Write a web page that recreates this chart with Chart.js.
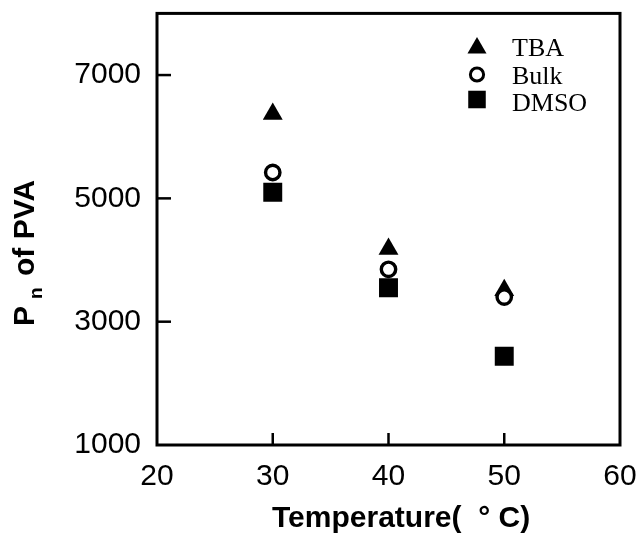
<!DOCTYPE html>
<html><head><meta charset="utf-8">
<script src="https://cdn.jsdelivr.net/npm/chart.js@4/dist/chart.umd.min.js"></script>
<style>html,body{margin:0;padding:0;background:#fff;}#wrap{width:639px;height:543px;position:relative;}</style>
</head><body><div id="wrap"><canvas id="c" width="639" height="543"></canvas></div>
<script>
// ---- data ----
const temperatures = [30, 40, 50];
const tbaValues  = [6370, 4180, 3510];
const bulkValues = [5420, 3850, 3400];
const dmsoValues = [5100, 3550, 2440];
const seriesNames = ['TBA', 'Bulk', 'DMSO'];
const xTickValues = [20, 30, 40, 50, 60];
const yTickValues = [1000, 3000, 5000, 7000];
const xTitle = 'Temperature(  ° C)';
const yTitleMain = 'P', yTitleSub = 'n', yTitleRest = 'of PVA';

const pts = (vals) => temperatures.map((t, i) => ({x: t, y: vals[i]}));

const styles = [
  {pointStyle: 'triangle', pointRadius: 11.5, backgroundColor: '#000', borderColor: '#000', borderWidth: 0, order: 1},
  {pointStyle: 'circle', pointRadius: 7.2, backgroundColor: '#fff', borderColor: '#000', borderWidth: 3.4, order: 0},
  {pointStyle: 'rect', pointRadius: 13.4, backgroundColor: '#000', borderColor: '#000', borderWidth: 0, order: 2}
];
const seriesValues = [tbaValues, bulkValues, dmsoValues];

const datasets = seriesNames.map((name, i) => ({
  label: name,
  data: pts(seriesValues[i]),
  showLine: false,
  pointStyle: styles[i].pointStyle,
  pointRadius: styles[i].pointRadius,
  pointHoverRadius: styles[i].pointRadius,
  pointBackgroundColor: styles[i].backgroundColor,
  pointBorderColor: styles[i].borderColor,
  pointBorderWidth: styles[i].borderWidth,
  order: styles[i].order
}));

function drawMarker(ctx, style, radius, bw, x, y, fill) {
  ctx.save();
  ctx.fillStyle = fill; ctx.strokeStyle = '#000'; ctx.lineWidth = bw;
  if (Chart.helpers && Chart.helpers.drawPoint) {
    Chart.helpers.drawPoint(ctx, {pointStyle: style, radius: radius, rotation: 0, borderWidth: bw}, x, y);
  } else {
    ctx.beginPath();
    if (style === 'circle') ctx.arc(x, y, radius, 0, Math.PI * 2);
    else if (style === 'rect') { const s = radius * Math.SQRT1_2; ctx.rect(x - s, y - s, 2 * s, 2 * s); }
    else { ctx.moveTo(x, y - radius); ctx.lineTo(x + radius * 0.866, y + radius / 2); ctx.lineTo(x - radius * 0.866, y + radius / 2); ctx.closePath(); }
    ctx.fill(); if (bw > 0) ctx.stroke();
  }
  ctx.restore();
}

function zeroPad(s) { s.paddingTop = 0; s.paddingBottom = 0; s.paddingLeft = 0; s.paddingRight = 0; }

const framePlugin = {
  id: 'frame',
  beforeDatasetsDraw(chart) {
    const {ctx, chartArea: a, scales: {x, y}} = chart;
    ctx.save();
    ctx.strokeStyle = '#000';
    ctx.lineWidth = 3;
    ctx.strokeRect(a.left, a.top, a.right - a.left, a.bottom - a.top);
    ctx.lineWidth = 2.5;
    xTickValues.forEach(v => {
      if (v === x.min || v === x.max) return;
      const px = x.getPixelForValue(v);
      ctx.beginPath(); ctx.moveTo(px, a.bottom); ctx.lineTo(px, a.bottom - 12); ctx.stroke();
    });
    yTickValues.forEach(v => {
      if (v === y.min || v === y.max) return;
      const py = y.getPixelForValue(v);
      ctx.beginPath(); ctx.moveTo(a.left, py); ctx.lineTo(a.left + 14, py); ctx.stroke();
    });
    ctx.restore();
  },
  afterDraw(chart) {
    const ctx = chart.ctx;
    ctx.save();
    ctx.fillStyle = '#000';
    // x title
    ctx.font = 'bold 30px "Liberation Sans", Arial, sans-serif';
    ctx.textAlign = 'left'; ctx.textBaseline = 'alphabetic';
    ctx.fillText(xTitle, 272, 527);
    // y title (rotated)
    ctx.save();
    ctx.translate(34, 325);
    ctx.rotate(-Math.PI / 2);
    ctx.font = 'bold 30px "Liberation Sans", Arial, sans-serif';
    ctx.fillText(yTitleMain, -1, 0);
    ctx.font = 'bold 19px "Liberation Sans", Arial, sans-serif';
    ctx.fillText(yTitleSub, 26, 8);
    ctx.font = 'bold 30px "Liberation Sans", Arial, sans-serif';
    ctx.fillText(yTitleRest, 49, 0);
    ctx.restore();
    // legend
    const markerY = [48, 74.5, 99.5];
    const legendRadius = [11, 6.6, 12.4];
    const legendBW = [0, 3, 0];
    ctx.font = '26px "Liberation Serif", "Times New Roman", serif';
    seriesNames.forEach((name, i) => {
      drawMarker(ctx, styles[i].pointStyle, legendRadius[i], legendBW[i], 477, markerY[i], styles[i].backgroundColor);
      ctx.fillStyle = '#000';
      ctx.fillText(name, 512, 56 + i * 27.6);
    });
    ctx.restore();
  }
};

new Chart(document.getElementById('c'), {
  type: 'scatter',
  data: {datasets},
  options: {
    responsive: false,
    animation: false,
    events: [],
    layout: {padding: {top: 13, right: 19, left: 0, bottom: 0}},
    plugins: {legend: {display: false}, tooltip: {enabled: false}},
    scales: {
      x: {
        type: 'linear', min: 20, max: 60,
        afterFit(s) { s.height = 98; zeroPad(s); },
        afterBuildTicks(s) { s.ticks = xTickValues.map(v => ({value: v})); },
        grid: {display: false, drawTicks: false},
        border: {display: false},
        ticks: {color: '#000', font: {family: '"Liberation Sans", Arial, sans-serif', size: 30}, padding: 14,
                maxRotation: 0, autoSkip: false, callback: v => String(v)}
      },
      y: {
        type: 'linear', min: 1000, max: 8000,
        afterFit(s) { s.width = 157; zeroPad(s); },
        afterBuildTicks(s) { s.ticks = yTickValues.map(v => ({value: v})); },
        grid: {display: false, drawTicks: false},
        border: {display: false},
        ticks: {color: '#000', font: {family: '"Liberation Sans", Arial, sans-serif', size: 30}, padding: 16,
                autoSkip: false, callback: v => String(v)}
      }
    }
  },
  plugins: [framePlugin]
});
</script></body></html>
